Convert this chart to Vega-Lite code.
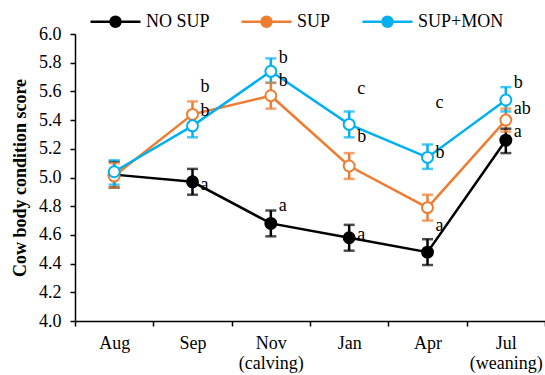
{
  "$schema": "https://vega.github.io/schema/vega-lite/v6.json",
  "autosize": "none",
  "width": 470,
  "height": 287,
  "padding": {"left": 75, "top": 34, "right": 0, "bottom": 54},
  "background": "white",
  "config": {
    "font": "Liberation Serif",
    "view": {"stroke": null},
    "axis": {"grid": false, "domainColor": "black", "tickColor": "black", "labelColor": "black", "titleColor": "black", "labelFont": "Liberation Serif", "titleFont": "Liberation Serif", "labelFontSize": 18, "domainWidth": 1.5, "tickWidth": 1.5},
    "legend": {"title": null, "orient": "none", "direction": "horizontal", "legendX": 14, "legendY": -39, "symbolType": "M-1,0L-0.2,0M0.2,0L1,0M-0.2,0A0.2,0.2,0,1,0,0.2,0A0.2,0.2,0,1,0,-0.2,0Z", "symbolSize": 2500, "symbolStrokeWidth": 2.5, "symbolOpacity": 1, "labelFont": "Liberation Serif", "labelFontSize": 18, "labelColor": "black", "labelOffset": 4, "columnPadding": 26}
  },
  "datasets": {
    "pts": [
      {"month": "Aug", "group": "NO SUP", "score": 5.02, "lo": 4.93, "hi": 5.11},
      {"month": "Sep", "group": "NO SUP", "score": 4.97, "lo": 4.88, "hi": 5.06},
      {"month": "Nov", "group": "NO SUP", "score": 4.68, "lo": 4.59, "hi": 4.77},
      {"month": "Jan", "group": "NO SUP", "score": 4.58, "lo": 4.49, "hi": 4.67},
      {"month": "Apr", "group": "NO SUP", "score": 4.48, "lo": 4.39, "hi": 4.57},
      {"month": "Jul", "group": "NO SUP", "score": 5.26, "lo": 5.17, "hi": 5.34},
      {"month": "Aug", "group": "SUP", "score": 5.01, "lo": 4.93, "hi": 5.10},
      {"month": "Sep", "group": "SUP", "score": 5.44, "lo": 5.36, "hi": 5.53},
      {"month": "Nov", "group": "SUP", "score": 5.57, "lo": 5.48, "hi": 5.66},
      {"month": "Jan", "group": "SUP", "score": 5.08, "lo": 4.99, "hi": 5.17},
      {"month": "Apr", "group": "SUP", "score": 4.79, "lo": 4.70, "hi": 4.88},
      {"month": "Jul", "group": "SUP", "score": 5.40, "lo": 5.32, "hi": 5.48},
      {"month": "Aug", "group": "SUP+MON", "score": 5.04, "lo": 4.95, "hi": 5.12},
      {"month": "Sep", "group": "SUP+MON", "score": 5.36, "lo": 5.28, "hi": 5.45},
      {"month": "Nov", "group": "SUP+MON", "score": 5.74, "lo": 5.66, "hi": 5.83},
      {"month": "Jan", "group": "SUP+MON", "score": 5.37, "lo": 5.28, "hi": 5.46},
      {"month": "Apr", "group": "SUP+MON", "score": 5.14, "lo": 5.06, "hi": 5.23},
      {"month": "Jul", "group": "SUP+MON", "score": 5.54, "lo": 5.46, "hi": 5.63}
    ],
    "letters": [
      {"month": "Sep", "y": 5.63, "label": "b"},
      {"month": "Sep", "y": 5.46, "label": "b"},
      {"month": "Sep", "y": 4.95, "label": "a"},
      {"month": "Nov", "y": 5.83, "label": "b"},
      {"month": "Nov", "y": 5.67, "label": "b"},
      {"month": "Nov", "y": 4.80, "label": "a"},
      {"month": "Jan", "y": 5.62, "label": "c"},
      {"month": "Jan", "y": 5.28, "label": "b"},
      {"month": "Jan", "y": 4.60, "label": "a"},
      {"month": "Apr", "y": 5.52, "label": "c"},
      {"month": "Apr", "y": 5.17, "label": "b"},
      {"month": "Apr", "y": 4.66, "label": "a"},
      {"month": "Jul", "y": 5.66, "label": "b"},
      {"month": "Jul", "y": 5.48, "label": "ab"},
      {"month": "Jul", "y": 5.32, "label": "a"}
    ]
  },
  "encoding": {
    "x": {"field": "month", "type": "nominal", "sort": ["Aug", "Sep", "Nov", "Jan", "Apr", "Jul"], "scale": {"paddingInner": 0, "paddingOuter": 0},
      "axis": {"title": null, "tickBand": "extent", "tickSize": 5, "labelPadding": 8, "labelAngle": 0, "labelBaseline": "top", "labelLineHeight": 20,
        "labelExpr": "datum.value == 'Nov' ? ['Nov', '(calving)'] : datum.value == 'Jul' ? ['Jul', '(weaning)'] : datum.value"}}
  },
  "layer": [
    {
      "data": {"name": "pts"},
      "mark": {"type": "rule", "strokeWidth": 2.5},
      "encoding": {
        "y": {"field": "lo", "type": "quantitative", "scale": {"domain": [4, 6], "nice": false, "zero": false},
          "axis": {"title": "Cow body condition score", "titleFontWeight": "bold", "titleFontSize": 18, "titlePadding": 9, "tickCount": 10, "format": ".1f", "tickSize": 5, "labelPadding": 9, "labelOverlap": false}},
        "y2": {"field": "hi"},
        "color": {"field": "group", "type": "nominal", "scale": {"domain": ["NO SUP", "SUP", "SUP+MON"], "range": ["#000000", "#ED7D31", "#00B0F0"]}}
      }
    },
    {
      "data": {"name": "pts"},
      "mark": {"type": "tick", "thickness": 2.5, "size": 11},
      "encoding": {
        "y": {"field": "lo", "type": "quantitative"},
        "color": {"field": "group", "type": "nominal"}
      }
    },
    {
      "data": {"name": "pts"},
      "mark": {"type": "tick", "thickness": 2.5, "size": 11},
      "encoding": {
        "y": {"field": "hi", "type": "quantitative"},
        "color": {"field": "group", "type": "nominal"}
      }
    },
    {
      "data": {"name": "pts"},
      "mark": {"type": "line", "strokeWidth": 2.5},
      "encoding": {
        "y": {"field": "score", "type": "quantitative"},
        "color": {"field": "group", "type": "nominal"}
      }
    },
    {
      "data": {"name": "pts"},
      "mark": {"type": "point", "size": 120, "strokeWidth": 2, "opacity": 1, "filled": false},
      "encoding": {
        "y": {"field": "score", "type": "quantitative"},
        "color": {"field": "group", "type": "nominal"},
        "fill": {"field": "group", "type": "nominal", "scale": {"domain": ["NO SUP", "SUP", "SUP+MON"], "range": ["#000000", "#FFFFFF", "#FFFFFF"]}}
      }
    },
    {
      "data": {"name": "letters"},
      "mark": {"type": "text", "align": "left", "baseline": "middle", "dx": 8, "fontSize": 18, "font": "Liberation Serif", "color": "black"},
      "encoding": {
        "y": {"field": "y", "type": "quantitative"},
        "text": {"field": "label"}
      }
    }
  ]
}
